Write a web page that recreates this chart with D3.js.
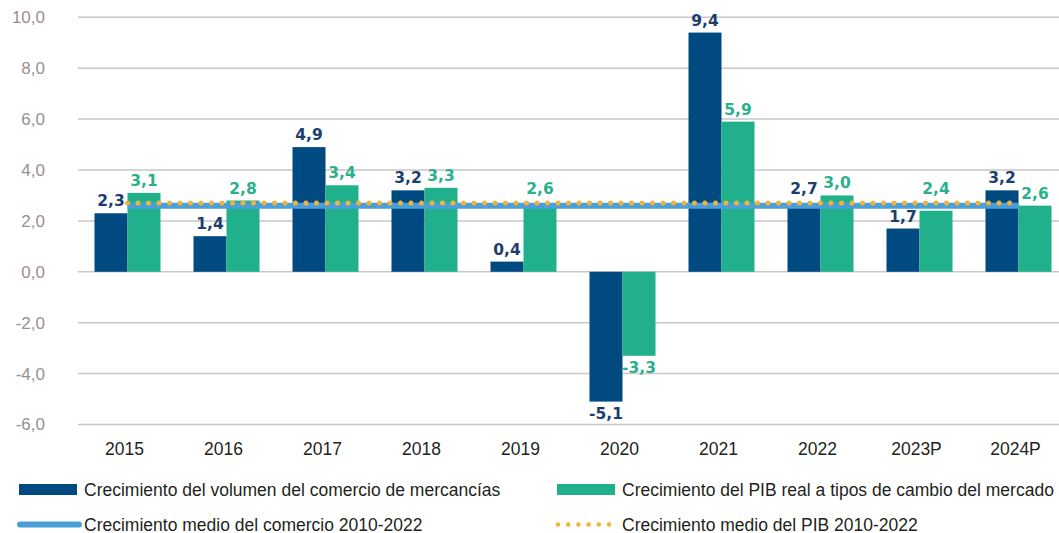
<!DOCTYPE html>
<html>
<head>
<meta charset="utf-8">
<script src="https://cdn.jsdelivr.net/npm/d3@7"></script>
<style>
  body { margin: 0; background: #fff; }
  svg { display: block; }
</style>
</head>
<body>
<div id="chart"></div>
<script>
// ---- data ----
const years = ['2015', '2016', '2017', '2018', '2019', '2020', '2021', '2022', '2023P', '2024P'];
const tradeVolume = [2.3, 1.4, 4.9, 3.2, 0.4, -5.1, 9.4, 2.7, 1.7, 3.2];
const gdpGrowth = [3.1, 2.8, 3.4, 3.3, 2.6, -3.3, 5.9, 3.0, 2.4, 2.6];
const avgTrade = 2.6;   // 2010-2022
const avgGdp = 2.7;     // 2010-2022
const yTicks = [-6, -4, -2, 0, 2, 4, 6, 8, 10];
const seriesNames = [
	'Crecimiento del volumen del comercio de mercancías',
	'Crecimiento del PIB real a tipos de cambio del mercado',
	'Crecimiento medio del comercio 2010-2022',
	'Crecimiento medio del PIB 2010-2022'
];

// ---- styles ----
const width = 1059, height = 533;
const colors = { trade: '#004a82', gdp: '#20b08b', tradeLbl: '#1b3e6f', gdpLbl: '#2bb08b', avgTrade: '#4a9fd8', avgGdp: '#f0b43c' };
// spanish decimal comma, plain hyphen for negatives
const fmt = v => v.toFixed(1).replace('.', ',');

const svg = d3.select('#chart').append('svg')
	.attr('width', width)
	.attr('height', height);

// Scales
const x0 = d3.scaleBand()
	.domain(years)
	.range([78, 1068])
	.paddingInner(1 / 3)
	.paddingOuter(1 / 6);

const x1 = d3.scaleBand()
	.domain([0, 1])
	.range([0, x0.bandwidth()]);

const y = d3.scaleLinear()
	.domain([-6, 10])
	.range([424.5, 17.3]);

// Gridlines + y labels
const grid = svg.append('g').attr('class', 'grid');
grid.selectAll('line')
	.data(yTicks)
	.enter()
	.append('line')
	.attr('x1', 78)
	.attr('x2', width)
	.attr('y1', d => y(d))
	.attr('y2', d => y(d))
	.attr('stroke', '#c9c7c7')
	.attr('stroke-width', 1.5);

grid.selectAll('text')
	.data(yTicks)
	.enter()
	.append('text')
	.attr('x', 45)
	.attr('y', d => y(d))
	.attr('dy', '0.35em')
	.attr('text-anchor', 'end')
	.attr('font-family', 'Liberation Sans, Arial, sans-serif')
	.attr('font-size', 17)
	.attr('fill', '#9a8f8b')
	.text(d => fmt(d));

// x labels
svg.append('g')
	.selectAll('text')
	.data(years)
	.enter()
	.append('text')
	.attr('x', d => x0(d) + x0.bandwidth() / 2 - 3)
	.attr('y', 455)
	.attr('text-anchor', 'middle')
	.attr('font-family', 'Liberation Sans, Arial, sans-serif')
	.attr('font-size', 17.5)
	.attr('fill', '#231f20')
	.text(d => d);

// Bars
const rows = years.map((yr, i) => ({ year: yr, values: [tradeVolume[i], gdpGrowth[i]] }));
const barColors = [colors.trade, colors.gdp];
const lblColors = [colors.tradeLbl, colors.gdpLbl];

const groups = svg.append('g').attr('class', 'bars')
	.selectAll('g')
	.data(rows)
	.enter()
	.append('g')
	.attr('transform', d => `translate(${x0(d.year)},0)`);

groups.selectAll('rect')
	.data(d => d.values.map((v, k) => ({ v, k })))
	.enter()
	.append('rect')
	.attr('x', d => x1(d.k))
	.attr('width', x1.bandwidth())
	.attr('y', d => y(Math.max(0, d.v)))
	.attr('height', d => Math.abs(y(d.v) - y(0)))
	.attr('fill', d => barColors[d.k]);

// Average lines
const lineX1 = x0(years[0]) + x0.bandwidth() / 2;
const lineX2 = x0(years[years.length - 1]) + x0.bandwidth() / 2;

svg.append('line')
	.attr('x1', lineX1).attr('x2', lineX2)
	.attr('y1', y(avgTrade)).attr('y2', y(avgTrade))
	.attr('stroke', colors.avgTrade)
	.attr('stroke-width', 6);

svg.append('line')
	.attr('x1', lineX1).attr('x2', lineX2)
	.attr('y1', y(avgGdp)).attr('y2', y(avgGdp))
	.attr('stroke', colors.avgGdp)
	.attr('stroke-width', 5)
	.attr('stroke-linecap', 'round')
	.attr('stroke-dasharray', '0 10.5');

// Value labels (lifted above the average line when they would touch it)
const lineTop = Math.min(y(avgTrade), y(avgGdp));
groups.selectAll('text')
	.data(d => d.values.map((v, k) => ({ v, k, gx: x0(d.year) })))
	.enter()
	.append('text')
	.attr('x', d => x1(d.k) + x1.bandwidth() / 2)
	.attr('y', d => {
		if (d.v < 0) return y(d.v) + 17;
		let base = y(d.v) - 7;
		const cx = d.gx + x1(d.k) + x1.bandwidth() / 2;
		const onLine = cx > lineX1 && cx < lineX2;
		if (onLine && base > lineTop - 14 && base - 11 < lineTop + 5) base = lineTop - 9;
		return base;
	})
	.attr('text-anchor', 'middle')
	.attr('font-family', 'DejaVu Sans, sans-serif')
	.attr('font-weight', 'bold')
	.attr('font-size', 15.5)
	.attr('fill', d => lblColors[d.k])
	.text(d => fmt(d.v));

// Legend
const legend = svg.append('g').attr('class', 'legend')
	.attr('font-family', 'Liberation Sans, Arial, sans-serif')
	.attr('font-size', 17.5)
	.attr('fill', '#231f20');

const legendItems = [
	{ name: seriesNames[0], x: 19, y: 489.5, type: 'rect', color: colors.trade },
	{ name: seriesNames[1], x: 557, y: 489.5, type: 'rect', color: colors.gdp },
	{ name: seriesNames[2], x: 19, y: 524.5, type: 'line', color: colors.avgTrade },
	{ name: seriesNames[3], x: 557, y: 524.5, type: 'dots', color: colors.avgGdp }
];

legendItems.forEach(item => {
	const g = legend.append('g').attr('transform', `translate(${item.x},${item.y})`);
	if (item.type === 'rect') {
		g.append('rect').attr('x', 0).attr('y', -5.5).attr('width', 58).attr('height', 11).attr('fill', item.color);
	} else if (item.type === 'line') {
		g.append('line').attr('x1', 1).attr('x2', 60).attr('y1', 0).attr('y2', 0)
			.attr('stroke', item.color).attr('stroke-width', 6).attr('stroke-linecap', 'round');
	} else {
		g.append('line').attr('x1', 1).attr('x2', 52).attr('y1', 0).attr('y2', 0)
			.attr('stroke', item.color).attr('stroke-width', 4.5).attr('stroke-linecap', 'round')
			.attr('stroke-dasharray', '0 10.2');
	}
	g.append('text')
		.attr('x', 65)
		.attr('y', 6)
		.text(item.name);
});
</script>
</body>
</html>
